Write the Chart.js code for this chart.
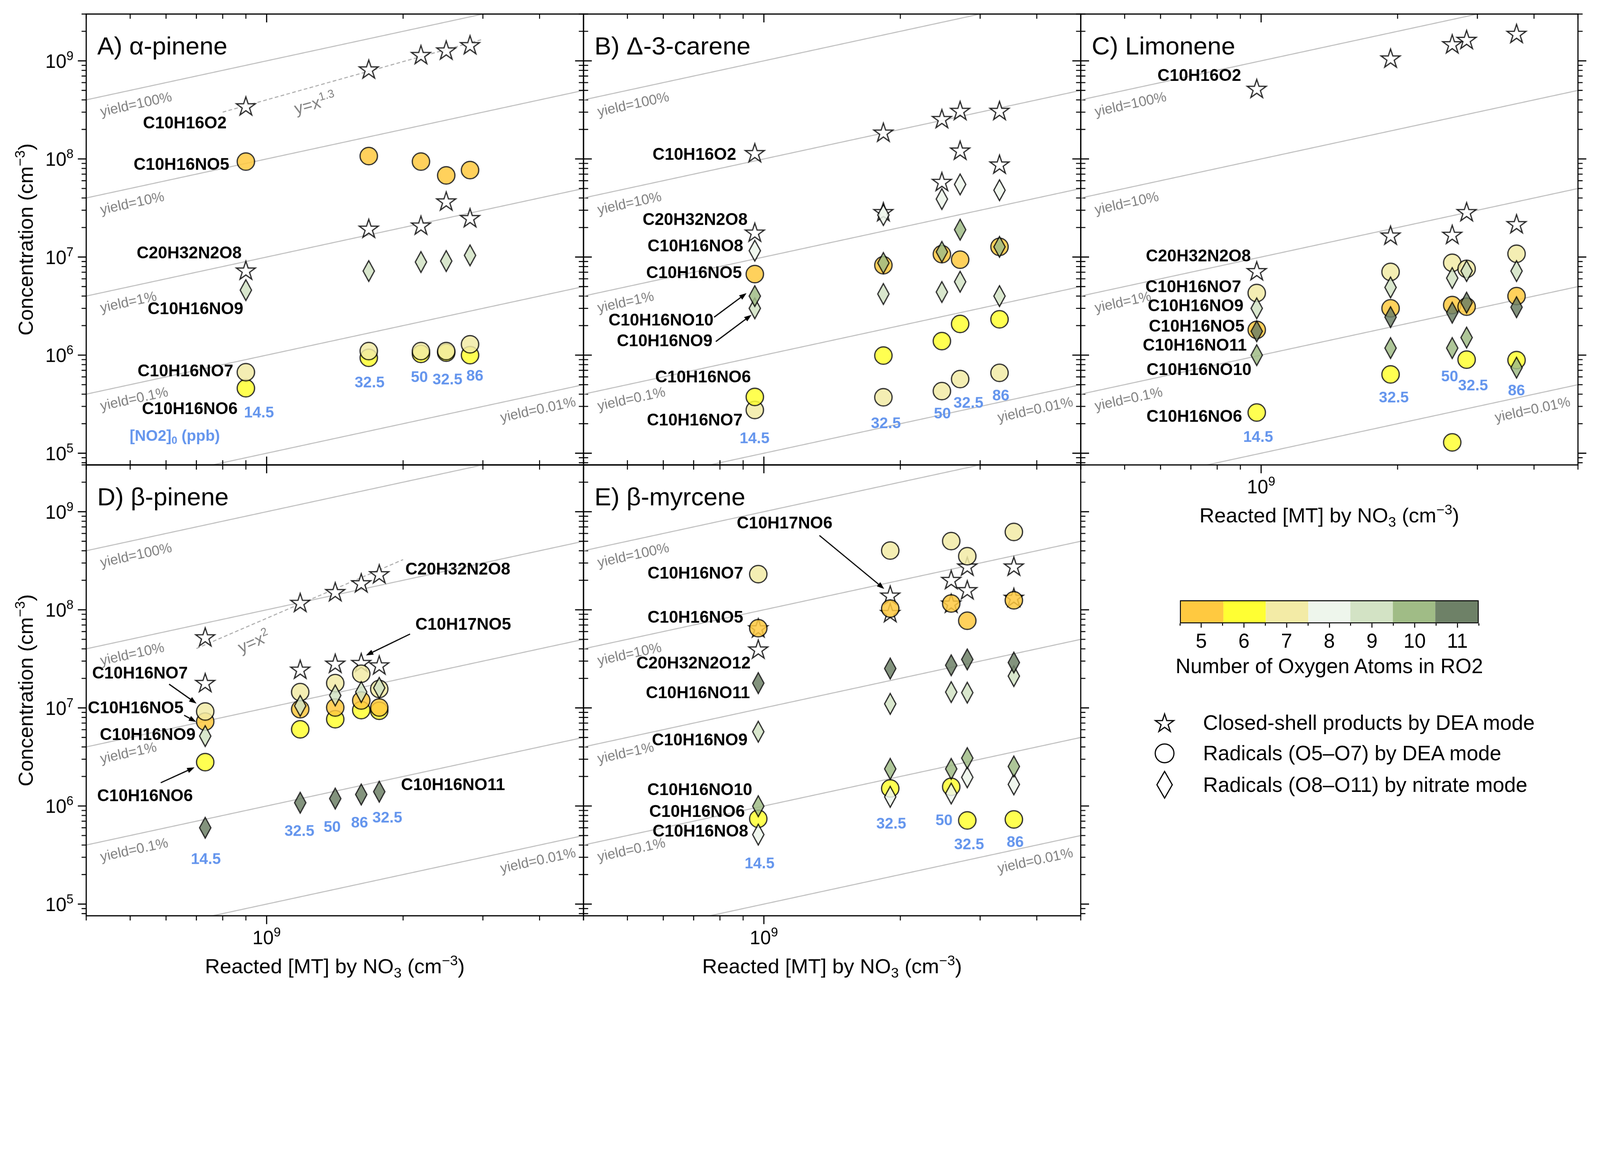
<!DOCTYPE html>
<html>
<head>
<meta charset="utf-8">
<script src="https://cdn.jsdelivr.net/npm/chart.js@4.4.0/dist/chart.umd.min.js"></script>
<style>
html, body { margin: 0; padding: 0; background: #fff; overflow: hidden; }
#page { position: relative; width: 4788px; height: 2964px; overflow: hidden; background: #fff;
        font-family: "Liberation Sans", Arial, Helvetica, sans-serif; color: #000; transform-origin: 0 0; }
#page canvas.panel { position: absolute; }
.abs { position: absolute; white-space: nowrap; }
</style>
</head>
<body>
<div id="page"></div>
<script>
// shared axis limits (all five panels use the same log-log box)
const X_MIN = 4e8, X_MAX = 5e9;
const Y_MIN = 7.6e4, Y_MAX = 3e9;
const Y_TICKS = [1e5, 1e6, 1e7, 1e8, 1e9];
const YIELDS = [1, 0.1, 0.01, 0.001, 0.0001];
const YIELD_LABELS = ['yield=100%', 'yield=10%', 'yield=1%', 'yield=0.1%', 'yield=0.01%'];

// colour of a radical = number of O atoms in RO2
const O_LEVELS = [5, 6, 7, 8, 9, 10, 11];
const O_COLORS = ['#FFC940', '#FFFF33', '#F3EBA6', '#EEF6EC', '#D3E3C5', '#A0BC86', '#6E8167'];

// A) alpha-pinene
const apReacted = [9.0e8, 1.68e9, 2.19e9, 2.49e9, 2.81e9];
const apNO2 = ['14.5', '32.5', '50', '32.5', '86'];
const apC10H16O2 = [3.45e8, 8.2e8, 1.15e9, 1.28e9, 1.45e9];
const apC20H32N2O8 = [7.3e6, 1.95e7, 2.1e7, 3.7e7, 2.5e7];
const apNO5 = [9.4e7, 1.07e8, 9.4e7, 6.8e7, 7.7e7];
const apNO9 = [4.6e6, 7.2e6, 8.9e6, 9.1e6, 1.04e7];
const apNO7 = [6.7e5, 1.1e6, 1.1e6, 1.1e6, 1.29e6];
const apNO6 = [4.6e5, 9.4e5, 1.03e6, 1.06e6, 1.0e6];

// B) delta-3-carene
const caReacted = [9.55e8, 1.835e9, 2.47e9, 2.71e9, 3.31e9];
const caNO2 = ['14.5', '32.5', '50', '32.5', '86'];
const caC10H16O2 = [1.15e8, 1.86e8, 2.56e8, 3.1e8, 3.1e8];
const caC20H32N2O8 = [1.78e7, 2.88e7, 5.85e7, 1.22e8, 8.8e7];
const caNO8 = [1.16e7, 2.68e7, 3.9e7, 5.5e7, 4.8e7];
const caNO5 = [6.7e6, 8.25e6, 1.07e7, 9.4e6, 1.27e7];
const caNO10 = [4.0e6, 8.7e6, 1.13e7, 1.9e7, 1.27e7];
const caNO9 = [3.0e6, 4.2e6, 4.4e6, 5.6e6, 4.0e6];
const caNO6 = [3.75e5, 9.9e5, 1.39e6, 2.08e6, 2.32e6];
const caNO7 = [2.76e5, 3.72e5, 4.3e5, 5.7e5, 6.6e5];

// C) limonene
const liReacted = [9.78e8, 1.93e9, 2.64e9, 2.84e9, 3.66e9];
const liNO2 = ['14.5', '32.5', '50', '32.5', '86'];
const liC10H16O2 = [5.2e8, 1.06e9, 1.48e9, 1.64e9, 1.89e9];
const liC20H32N2O8 = [7.2e6, 1.66e7, 1.69e7, 2.88e7, 2.17e7];
const liNO7 = [4.3e6, 7.06e6, 8.74e6, 7.58e6, 1.08e7];
const liNO9 = [3.0e6, 4.9e6, 6.1e6, 7.2e6, 7.2e6];
const liNO5 = [1.81e6, 3.0e6, 3.24e6, 3.12e6, 4.0e6];
const liNO11 = [1.75e6, 2.44e6, 2.71e6, 3.43e6, 3.08e6];
const liNO10 = [1.0e6, 1.18e6, 1.18e6, 1.51e6, 7.45e5];
const liNO6 = [2.6e5, 6.36e5, 1.29e5, 9.0e5, 8.9e5];

// D) beta-pinene
const bpReacted = [7.32e8, 1.186e9, 1.417e9, 1.617e9, 1.772e9];
const bpNO2 = ['14.5', '32.5', '50', '86', '32.5'];
const bpC20H32N2O8 = [5.26e7, 1.18e8, 1.52e8, 1.87e8, 2.31e8];
const bpC10H17NO5 = [1.8e7, 2.46e7, 2.83e7, 2.88e7, 2.72e7];
const bpNO7 = [9.2e6, 1.45e7, 1.79e7, 2.23e7, 1.56e7];
const bpNO5 = [7.26e6, 9.7e6, 1.01e7, 1.19e7, 1.01e7];
const bpNO9 = [5.16e6, 1.05e7, 1.34e7, 1.45e7, 1.6e7];
const bpNO6 = [2.8e6, 6.05e6, 7.67e6, 9.5e6, 9.35e6];
const bpNO11 = [6.0e5, 1.08e6, 1.19e6, 1.31e6, 1.4e6];

// E) beta-myrcene
const myReacted = [9.72e8, 1.9e9, 2.59e9, 2.81e9, 3.56e9];
const myNO2 = ['14.5', '32.5', '50', '32.5', '86'];
const myNO7 = [2.31e8, 4.02e8, 5.02e8, 3.52e8, 6.22e8];
const myC10H17NO6 = [6.5e7, 1.4e8, 2.02e8, 2.77e8, 2.77e8];
const myC20H32N2O12 = [3.95e7, 9.3e7, 1.16e8, 1.59e8, 1.33e8];
const myNO5 = [6.5e7, 1.03e8, 1.16e8, 7.74e7, 1.25e8];
const myNO11 = [1.79e7, 2.52e7, 2.72e7, 3.12e7, 2.9e7];
const myNO9 = [5.72e6, 1.1e7, 1.45e7, 1.43e7, 2.11e7];
const myNO10 = [9.95e5, 2.39e6, 2.39e6, 3.08e6, 2.53e6];
const myNO6 = [7.41e5, 1.51e6, 1.57e6, 7.13e5, 7.3e5];
const myNO8 = [5.11e5, 1.24e6, 1.34e6, 1.96e6, 1.66e6];

// fitted power laws (dashed), end points
const apFit = [{x: 8e8, y: 3e8}, {x: 3e9, y: 1.66e9}];
const bpFit = [{x: 7e8, y: 4.03e7}, {x: 2e9, y: 3.25e8}];

const FONT = '"Liberation Sans", Arial, Helvetica, sans-serif';
const BLUE = '#6495ED';
const MARKER_ALPHA = 0.85;
const PAD = {left: 258, top: 42, right: 60, bottom: 222};
const BOX_W = 1488, BOX_H = 1349;

const X_TITLE = [['Reacted [MT] by NO', ''], ['3', 'sub'], [' (cm', ''], ['\u22123', 'sup'], [')', '']];
const Y_TITLE = [['Concentration (cm', ''], ['\u22123', 'sup'], [')', '']];

// panel layout, labels are offsets (px) inside the plot box
const panels = [
  { title: 'A) \u03b1-pinene', left: 258, top: 42, x: apReacted, no2: apNO2, yLabels: true, xLabels: false, topIn: true,
    series: [['star', 0, apC10H16O2], ['star', 0, apC20H32N2O8], ['circle', 5, apNO5], ['diamond', 9, apNO9],
             ['circle', 7, apNO7], ['circle', 6, apNO6]],
    names: [['C10H16O2', 420, 328, 'right'], ['C10H16NO5', 428, 452, 'right'], ['C20H32N2O8', 465, 717, 'right'],
            ['C10H16NO9', 470, 884, 'right'], ['C10H16NO7', 440, 1070, 'right'], ['C10H16NO6', 453, 1183, 'right']],
    no2Pos: [[517, 1194], [848, 1104], [997, 1088], [1081, 1095], [1163, 1084]],
    unitLabel: [265, 1260],
    fit: apFit, fitLabel: [['y=x', ''], ['1.3', 'sup']], fitAt: 1.25e9,
    arrows: [] },
  { title: 'B) \u0394-3-carene', left: 1746, top: 42, x: caReacted, no2: caNO2, yLabels: false, xLabels: false, topIn: true,
    series: [['star', 0, caC10H16O2], ['star', 0, caC20H32N2O8], ['diamond', 8, caNO8], ['circle', 5, caNO5],
             ['diamond', 10, caNO10], ['diamond', 9, caNO9], ['circle', 6, caNO6], ['circle', 7, caNO7]],
    names: [['C10H16O2', 457, 422, 'right'], ['C20H32N2O8', 491, 617, 'right'], ['C10H16NO8', 478, 696, 'right'],
            ['C10H16NO5', 474, 776, 'right'], ['C10H16NO10', 389, 918, 'right'], ['C10H16NO9', 386, 980, 'right'],
            ['C10H16NO6', 501, 1088, 'right'], ['C10H16NO7', 476, 1217, 'right']],
    no2Pos: [[512, 1271], [905, 1226], [1074, 1197], [1152, 1165], [1249, 1143]],
    arrows: [[391, 907, 488, 835], [396, 980, 503, 900]] },
  { title: 'C) Limonene', left: 3234, top: 42, x: liReacted, no2: liNO2, yLabels: false, xLabels: true, topIn: true,
    series: [['star', 0, liC10H16O2], ['star', 0, liC20H32N2O8], ['circle', 7, liNO7], ['diamond', 9, liNO9],
             ['circle', 5, liNO5], ['diamond', 11, liNO11], ['diamond', 10, liNO10], ['circle', 6, liNO6]],
    names: [['C10H16O2', 480, 186, 'right'], ['C20H32N2O8', 509, 726, 'right'], ['C10H16NO7', 480, 818, 'right'],
            ['C10H16NO9', 487, 875, 'right'], ['C10H16NO5', 490, 936, 'right'], ['C10H16NO11', 497, 993, 'right'],
            ['C10H16NO10', 511, 1066, 'right'], ['C10H16NO6', 483, 1206, 'right']],
    no2Pos: [[531, 1267], [937, 1149], [1104, 1086], [1174, 1113], [1304, 1128]],
    arrows: [] },
  { title: 'D) \u03b2-pinene', left: 258, top: 1391, x: bpReacted, no2: bpNO2, yLabels: true, xLabels: true, topIn: false,
    series: [['star', 0, bpC20H32N2O8], ['star', 0, bpC10H17NO5], ['circle', 7, bpNO7], ['circle', 5, bpNO5],
             ['diamond', 9, bpNO9], ['circle', 6, bpNO6], ['diamond', 11, bpNO11]],
    names: [['C20H32N2O8', 955, 314, 'left'], ['C10H17NO5', 985, 479, 'left'], ['C10H16NO11', 942, 959, 'left'],
            ['C10H16NO7', 304, 625, 'right'], ['C10H16NO5', 291, 729, 'right'], ['C10H16NO9', 327, 809, 'right'],
            ['C10H16NO6', 319, 992, 'right']],
    no2Pos: [[358, 1181], [638, 1097], [736, 1085], [818, 1072], [901, 1057]],
    fit: bpFit, fitLabel: [['y=x', ''], ['2', 'sup']], fitAt: 9.07e8,
    arrows: [[969, 506, 837, 570], [248, 656, 330, 714], [293, 749, 329, 769], [223, 951, 324, 905]] },
  { title: 'E) \u03b2-myrcene', left: 1746, top: 1391, x: myReacted, no2: myNO2, yLabels: false, xLabels: true, topIn: false,
    series: [['circle', 7, myNO7], ['star', 0, myC10H17NO6], ['star', 0, myC20H32N2O12], ['circle', 5, myNO5],
             ['diamond', 11, myNO11], ['diamond', 9, myNO9], ['diamond', 10, myNO10], ['circle', 6, myNO6],
             ['diamond', 8, myNO8]],
    names: [['C10H17NO6', 745, 176, 'right'], ['C10H16NO7', 478, 326, 'right'], ['C10H16NO5', 478, 458, 'right'],
            ['C20H32N2O12', 500, 595, 'right'], ['C10H16NO11', 498, 684, 'right'], ['C10H16NO9', 491, 825, 'right'],
            ['C10H16NO10', 505, 974, 'right'], ['C10H16NO6', 483, 1039, 'right'], ['C10H16NO8', 493, 1098, 'right']],
    no2Pos: [[527, 1194], [921, 1075], [1079, 1065], [1154, 1137], [1292, 1130]],
    arrows: [[706, 211, 900, 371]] }
];

function colorFor(o) { return O_COLORS[O_LEVELS.indexOf(o)]; }

function starPath(g, cx, cy, R, r) {
  g.beginPath();
  for (let i = 0; i < 10; i++) {
    const rad = i % 2 ? r : R;
    const a = -Math.PI / 2 + i * Math.PI / 5;
    g.lineTo(cx + rad * Math.cos(a), cy + rad * Math.sin(a));
  }
  g.closePath();
}

// marker sprite, used as Chart.js pointStyle
function markerCanvas(kind, fill, big) {
  const base = document.createElement('canvas');
  base.width = 90; base.height = 96;
  const g = base.getContext('2d');
  const cx = 45, cy = 48;
  g.lineWidth = 3.5; g.strokeStyle = '#000'; g.fillStyle = fill; g.lineJoin = 'miter'; g.miterLimit = 10;
  if (kind === 'circle') { g.beginPath(); g.arc(cx, cy, big ? 28 : 26, 0, Math.PI * 2); }
  else if (kind === 'diamond') {
    const hw = big ? 23 : 17, hh = big ? 40 : 31;
    g.beginPath(); g.moveTo(cx, cy - hh); g.lineTo(cx + hw, cy); g.lineTo(cx, cy + hh); g.lineTo(cx - hw, cy); g.closePath();
  } else starPath(g, cx, cy + 2, big ? 29 : 30, big ? 11 : 11.5);
  g.fill(); g.stroke();
  if (big) return base;
  const out = document.createElement('canvas');
  out.width = base.width; out.height = base.height;
  const o = out.getContext('2d');
  o.globalAlpha = MARKER_ALPHA;
  o.drawImage(base, 0, 0);
  return out;
}

function logTicks(min, max) {
  const out = [];
  for (let e = Math.floor(Math.log10(min)); e <= Math.ceil(Math.log10(max)); e++) {
    for (let m = 1; m < 10; m++) {
      const v = m * Math.pow(10, e);
      if (v >= min * 0.999 && v <= max * 1.001) out.push({v: v, major: m === 1});
    }
  }
  return out;
}

// text with super/subscripts; y is the visual middle
function drawRich(ctx, parts, x, y, size, weight, align) {
  const fontOf = (s) => `${weight} ${s === '' ? size : Math.round(size * 0.67)}px ${FONT}`;
  let w = 0;
  for (const [t, s] of parts) { ctx.font = fontOf(s); w += ctx.measureText(t).width; }
  let cx = align === 'center' ? x - w / 2 : (align === 'right' ? x - w : x);
  const base = y + size * 0.36;
  ctx.textAlign = 'left';
  ctx.textBaseline = 'alphabetic';
  for (const [t, s] of parts) {
    ctx.font = fontOf(s);
    const dy = s === 'sup' ? -size * 0.40 : (s === 'sub' ? size * 0.2 : 0);
    ctx.fillText(t, cx, base + dy);
    cx += ctx.measureText(t).width;
  }
}

function arrow(ctx, x1, y1, x2, y2) {
  const a = Math.atan2(y2 - y1, x2 - x1);
  const hl = 22, hw = 8;
  ctx.beginPath();
  ctx.moveTo(x1, y1);
  ctx.lineTo(x2 - hl * Math.cos(a), y2 - hl * Math.sin(a));
  ctx.stroke();
  ctx.beginPath();
  ctx.moveTo(x2, y2);
  ctx.lineTo(x2 - hl * Math.cos(a) + hw * Math.sin(a), y2 - hl * Math.sin(a) - hw * Math.cos(a));
  ctx.lineTo(x2 - hl * Math.cos(a) - hw * Math.sin(a), y2 - hl * Math.sin(a) + hw * Math.cos(a));
  ctx.closePath();
  ctx.fill();
}

function decorPlugin(p) {
  return {
    id: 'decor',
    beforeDatasetsDraw(chart) {
      const {ctx, chartArea: a, scales: {x, y}} = chart;
      ctx.save();
      ctx.fillStyle = '#808080';
      ctx.font = `42px ${FONT}`;
      ctx.textBaseline = 'middle';
      const ang = Math.atan2(y.getPixelForValue(X_MAX) - y.getPixelForValue(X_MIN),
                             x.getPixelForValue(X_MAX) - x.getPixelForValue(X_MIN));
      YIELDS.forEach((f, i) => {
        const right = i === YIELDS.length - 1;
        const px = right ? a.right - 33 : a.left + 33;
        const py = y.getPixelForValue(f * x.getValueForPixel(px));
        ctx.save();
        ctx.translate(px, py); ctx.rotate(ang);
        ctx.textAlign = right ? 'right' : 'left';
        ctx.fillText(YIELD_LABELS[i], 0, 46);
        ctx.restore();
      });
      if (p.fit) {
        const [f1, f2] = p.fit;
        const k = Math.log10(f2.y / f1.y) / Math.log10(f2.x / f1.x);
        const ly = f1.y * Math.pow(p.fitAt / f1.x, k);
        const px = x.getPixelForValue(p.fitAt), py = y.getPixelForValue(ly);
        const fa = Math.atan2(y.getPixelForValue(f2.y) - y.getPixelForValue(f1.y), x.getPixelForValue(f2.x) - x.getPixelForValue(f1.x));
        ctx.save();
        ctx.translate(px, py); ctx.rotate(fa);
        drawRich(ctx, p.fitLabel, 0, 48, 50, '', 'center');
        ctx.restore();
      }
      ctx.restore();
    },
    afterDraw(chart) {
      const {ctx, chartArea: a, scales: {x, y}} = chart;
      ctx.save();
      ctx.strokeStyle = '#000'; ctx.fillStyle = '#000';
      ctx.lineWidth = 3.5;
      ctx.strokeRect(a.left, a.top, a.right - a.left, a.bottom - a.top);
      const seg = (x1, y1, x2, y2) => { ctx.beginPath(); ctx.moveTo(x1, y1); ctx.lineTo(x2, y2); ctx.stroke(); };
      for (const t of logTicks(X_MIN, X_MAX)) {
        const px = x.getPixelForValue(t.v), len = t.major ? 25 : 14;
        ctx.lineWidth = t.major ? 3.5 : 3;
        seg(px, a.bottom, px, a.bottom + len);
        seg(px, a.top, px, p.topIn ? a.top + len : a.top - len);
      }
      for (const t of logTicks(Y_MIN, Y_MAX)) {
        const py = y.getPixelForValue(t.v), len = t.major ? 25 : 14;
        ctx.lineWidth = t.major ? 3.5 : 3;
        seg(a.left, py, a.left - len, py);
        seg(a.right, py, a.right + len, py);
      }
      // axis tick labels and titles
      if (p.yLabels) {
        Y_TICKS.forEach(v => {
          drawRich(ctx, [['10', ''], [String(Math.round(Math.log10(v))), 'sup']], a.left - 38, y.getPixelForValue(v), 57, '', 'right');
        });
        ctx.save();
        ctx.translate(a.left - 182, (a.top + a.bottom) / 2);
        ctx.rotate(-Math.PI / 2);
        drawRich(ctx, Y_TITLE, 0, 0, 62, '', 'center');
        ctx.restore();
      }
      if (p.xLabels) {
        drawRich(ctx, [['10', ''], ['9', 'sup']], x.getPixelForValue(1e9), a.bottom + 64, 57, '', 'center');
        drawRich(ctx, X_TITLE, (a.left + a.right) / 2, a.bottom + 150, 62, '', 'center');
      }
      // panel title
      ctx.font = `75px ${FONT}`;
      ctx.textAlign = 'left'; ctx.textBaseline = 'alphabetic';
      ctx.fillText(p.title, a.left + 33, a.top + 121);
      // species names
      ctx.font = `bold 50px ${FONT}`;
      ctx.textBaseline = 'middle';
      for (const [t, dx, dy, al] of p.names) {
        ctx.textAlign = al;
        ctx.fillText(t, a.left + dx, a.top + dy);
      }
      ctx.lineWidth = 3.5;
      for (const [x1, y1, x2, y2] of p.arrows) arrow(ctx, a.left + x1, a.top + y1, a.left + x2, a.top + y2);
      // [NO2]0 of each experiment
      ctx.fillStyle = BLUE;
      ctx.font = `bold 46px ${FONT}`;
      ctx.textAlign = 'center';
      p.no2.forEach((t, i) => ctx.fillText(t, a.left + p.no2Pos[i][0], a.top + p.no2Pos[i][1]));
      if (p.unitLabel) {
        drawRich(ctx, [['[NO2]', ''], ['0', 'sub'], [' (ppb)', '']], a.left + p.unitLabel[0], a.top + p.unitLabel[1], 46, 'bold', 'center');
      }
      ctx.restore();
    }
  };
}

const page = document.getElementById('page');
// keep the whole 4788x2964 sheet inside the window
const fit = Math.min(1, window.innerWidth / 4788, window.innerHeight / 2964);
if (fit < 0.999) page.style.transform = `scale(${fit})`;

const ORDER = {star: 3, circle: 2, diamond: 1};
const sprites = {};
function sprite(kind, o) {
  const key = kind + o;
  if (!sprites[key]) sprites[key] = markerCanvas(kind, kind === 'star' ? '#FFFFFF' : colorFor(o), false);
  return sprites[key];
}

panels.forEach(p => {
  const cv = document.createElement('canvas');
  cv.className = 'panel';
  cv.width = PAD.left + BOX_W + PAD.right;
  cv.height = PAD.top + BOX_H + PAD.bottom;
  cv.style.left = (p.left - PAD.left) + 'px';
  cv.style.top = (p.top - PAD.top) + 'px';
  page.appendChild(cv);

  const datasets = [];
  // yield reference lines y = f * x
  YIELDS.forEach(f => datasets.push({
    data: [{x: X_MIN, y: f * X_MIN}, {x: X_MAX, y: f * X_MAX}],
    showLine: true, borderColor: '#BDBDBD', borderWidth: 3, pointRadius: 0, order: 6
  }));
  if (p.fit) datasets.push({
    data: p.fit, showLine: true, borderColor: '#AAAAAA', borderWidth: 3, borderDash: [11, 7], pointRadius: 0, order: 5
  });
  p.series.forEach(([kind, o, vals]) => datasets.push({
    data: p.x.map((xv, i) => ({x: xv, y: vals[i]})),
    pointStyle: sprite(kind, o), pointRadius: 10, pointHoverRadius: 10, showLine: false, order: ORDER[kind]
  }));

  new Chart(cv, {
    type: 'scatter',
    data: {datasets: datasets},
    options: {
      responsive: false, animation: false, devicePixelRatio: 1, events: [],
      layout: {padding: PAD},
      scales: {
        x: {type: 'logarithmic', min: X_MIN, max: X_MAX, display: false},
        y: {type: 'logarithmic', min: Y_MIN, max: Y_MAX, display: false}
      },
      plugins: {legend: {display: false}, tooltip: {enabled: false}}
    },
    plugins: [decorPlugin(p)]
  });
});

// colour bar
function box(css, text) {
  const d = document.createElement('div');
  d.className = 'abs';
  Object.assign(d.style, css);
  if (text !== undefined) d.textContent = text;
  page.appendChild(d);
  return d;
}
const CB = {left: 3531, top: 1796, w: 894, h: 69};
const cb = box({left: CB.left + 'px', top: CB.top + 'px', width: CB.w + 'px', height: CB.h + 'px',
                border: '3.5px solid #000', boxSizing: 'border-box', display: 'flex'});
O_COLORS.forEach(c => { const d = document.createElement('div'); d.style.flex = '1'; d.style.background = c; cb.appendChild(d); });
const segW = CB.w / O_LEVELS.length;
for (let i = 0; i <= O_LEVELS.length; i++) {
  box({left: (CB.left + i * segW - 1.5) + 'px', top: (CB.top + CB.h) + 'px', width: '3px', height: '7px', background: '#000'});
}
O_LEVELS.forEach((o, i) => {
  const cx = CB.left + (i + 0.5) * segW;
  box({left: (cx - 1.5) + 'px', top: (CB.top + CB.h) + 'px', width: '3px', height: '13px', background: '#000'});
  box({left: (cx - 60) + 'px', top: '1883px', width: '120px', height: '70px', lineHeight: '70px',
       textAlign: 'center', fontSize: '60px'}, String(o));
});
box({left: '3378px', top: '1958px', width: '1200px', height: '70px', lineHeight: '70px', textAlign: 'center', fontSize: '62px'},
    'Number of Oxygen Atoms in RO2');

// marker legend
const LEGEND = [['star', 'Closed-shell products by DEA mode'],
                ['circle', 'Radicals (O5\u2013O7) by DEA mode'],
                ['diamond', 'Radicals (O8\u2013O11) by nitrate mode']];
const LEG_Y = [2163, 2254, 2348];
LEGEND.forEach(([kind, text], i) => {
  const m = markerCanvas(kind, '#FFFFFF', true);
  m.className = 'abs';
  m.style.left = (3485 - m.width / 2) + 'px';
  m.style.top = (LEG_Y[i] - m.height / 2) + 'px';
  page.appendChild(m);
  box({left: '3600px', top: (LEG_Y[i] - 40) + 'px', height: '80px', lineHeight: '80px', fontSize: '62px'}, text);
});
</script>
</body>
</html>
